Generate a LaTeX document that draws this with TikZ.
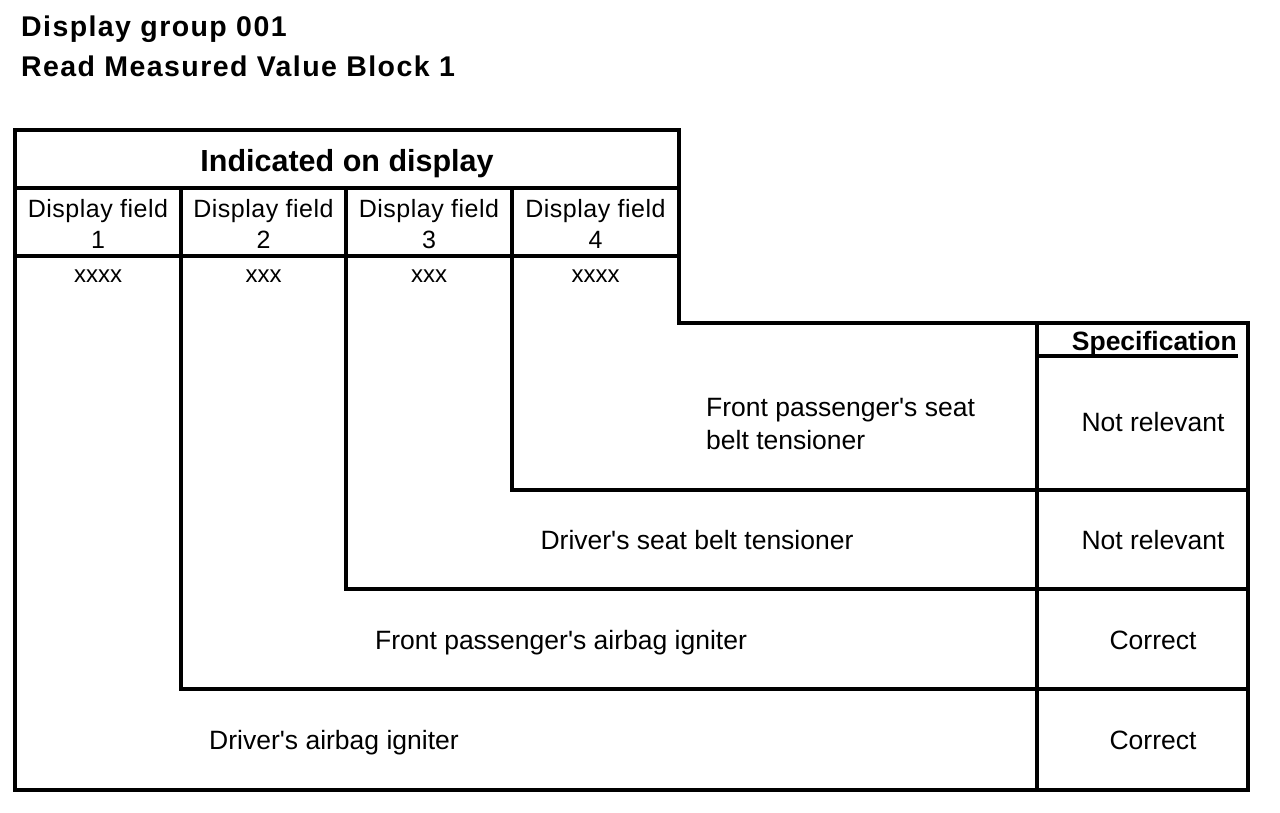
\documentclass[tikz,border=0pt]{standalone}
\usepackage{fontspec}
\setmainfont{Liberation Sans}
\newcommand{\ap}{\textquotesingle}
\begin{document}
\begin{tikzpicture}[x=1pt,y=-1pt,
  frame/.style={line width=3.5pt,line cap=rect,line join=miter},
  title/.style={anchor=base west,inner sep=0pt,font=\fontsize{28.5}{32}\selectfont\bfseries\addfontfeature{LetterSpace=5}},
  head/.style={anchor=base,inner sep=0pt,font=\fontsize{30.5}{34}\selectfont\bfseries},
  fieldtxt/.style={anchor=base,inner sep=0pt,font=\fontsize{25}{28}\selectfont\addfontfeature{LetterSpace=2}},
  valtxt/.style={anchor=base,inner sep=0pt,font=\fontsize{24}{26}\selectfont},
  body/.style={anchor=base,inner sep=0pt,font=\fontsize{26.5}{33}\selectfont},
  spechead/.style={anchor=base east,inner sep=0pt,font=\fontsize{26.5}{30}\selectfont\bfseries}]
\useasboundingbox[fill=white] (0,0) rectangle (1280,812);
% outer frame
\draw[frame] (15,130) -- (679,130) -- (679,323) -- (1248,323) -- (1248,790) -- (15,790) -- cycle;
\draw[frame] (15,188) -- (679,188);
\draw[frame] (15,256) -- (679,256);
\draw[frame] (181,188) -- (181,689) -- (1248,689);
\draw[frame] (346,188) -- (346,589) -- (1248,589);
\draw[frame] (512,188) -- (512,490) -- (1248,490);
\draw[frame] (1037,323) -- (1037,790);
\draw[line width=3.5pt] (1037,356) -- (1238,356);
% titles
\node[title] (t1) at (21,36) {Display group 001};
\node[title] (t2) at (21,76) {Read Measured Value Block 1};
\node[head] (ind) at (347,171) {Indicated on display};
% display fields
\node[fieldtxt] (f1) at (98,217) {Display field};
\node[fieldtxt] (f1n) at (98,248) {1};
\node[fieldtxt] (f2) at (263.5,217) {Display field};
\node[fieldtxt] (f2n) at (263.5,248) {2};
\node[fieldtxt] (f3) at (429,217) {Display field};
\node[fieldtxt] (f3n) at (429,248) {3};
\node[fieldtxt] (f4) at (595.5,217) {Display field};
\node[fieldtxt] (f4n) at (595.5,248) {4};
\node[valtxt] (v1) at (98,282) {xxxx};
\node[valtxt] (v2) at (263.5,282) {xxx};
\node[valtxt] (v3) at (429,282) {xxx};
\node[valtxt] (v4) at (595.5,282) {xxxx};
% specification
\node[spechead] (spec) at (1237,350) {Specification};
\node[body,anchor=base west] (r4a) at (706,416) {Front passenger\ap s seat};
\node[body,anchor=base west] (r4b) at (706,449) {belt tensioner};
\node[body] (s4) at (1153,431) {Not relevant};
\node[body] (r3) at (697,549) {Driver\ap s seat belt tensioner};
\node[body] (s3) at (1153,549) {Not relevant};
\node[body] (r2) at (561,649) {Front passenger\ap s airbag igniter};
\node[body] (s2) at (1153,649) {Correct};
\node[body] (r1) at (334,749) {Driver\ap s airbag igniter};
\node[body] (s1) at (1153,749) {Correct};
\end{tikzpicture}
\end{document}
